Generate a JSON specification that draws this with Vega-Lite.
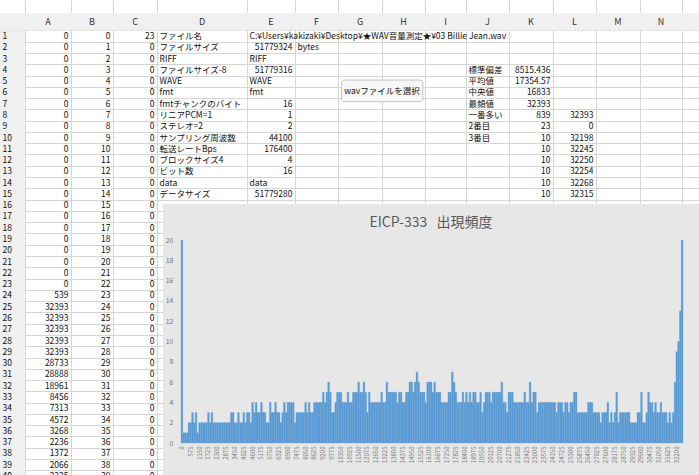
{
  "$schema": "https://vega.github.io/schema/vega-lite/v6.json",
  "padding": {"top": 13, "left": 0, "right": 0, "bottom": 0},
  "background": "white",
  "spacing": 0,
  "bounds": "flush",
  "config": {"view": {"stroke": null}, "font": "Noto Sans CJK JP", "concat": {"spacing": 0}},
  "datasets": {
    "txt": [
      {"c":0,"r":1,"t":"1"},{"c":0,"r":2,"t":"2"},{"c":0,"r":3,"t":"3"},{"c":0,"r":4,"t":"4"},{"c":0,"r":5,"t":"5"},{"c":0,"r":6,"t":"6"},{"c":0,"r":7,"t":"7"},{"c":0,"r":8,"t":"8"},{"c":0,"r":9,"t":"9"},{"c":0,"r":10,"t":"10"},
      {"c":0,"r":11,"t":"11"},{"c":0,"r":12,"t":"12"},{"c":0,"r":13,"t":"13"},{"c":0,"r":14,"t":"14"},{"c":0,"r":15,"t":"15"},{"c":0,"r":16,"t":"16"},{"c":0,"r":17,"t":"17"},{"c":0,"r":18,"t":"18"},{"c":0,"r":19,"t":"19"},{"c":0,"r":20,"t":"20"},
      {"c":0,"r":21,"t":"21"},{"c":0,"r":22,"t":"22"},{"c":0,"r":23,"t":"23"},{"c":0,"r":24,"t":"24"},{"c":0,"r":25,"t":"25"},{"c":0,"r":26,"t":"26"},{"c":0,"r":27,"t":"27"},{"c":0,"r":28,"t":"28"},{"c":0,"r":29,"t":"29"},{"c":0,"r":30,"t":"30"},
      {"c":0,"r":31,"t":"31"},{"c":0,"r":32,"t":"32"},{"c":0,"r":33,"t":"33"},{"c":0,"r":34,"t":"34"},{"c":0,"r":35,"t":"35"},{"c":0,"r":36,"t":"36"},{"c":0,"r":37,"t":"37"},{"c":0,"r":38,"t":"38"},{"c":0,"r":39,"t":"39"},{"c":0,"r":40,"t":"40"},
      {"c":4,"r":1,"t":"ファイル名"},{"c":5,"r":1,"t":"C:¥Users¥kakizaki¥Desktop¥★WAV音量測定★¥03 Billie Jean.wav"},
      {"c":4,"r":2,"t":"ファイルサイズ"},{"c":6,"r":2,"t":"bytes"},
      {"c":4,"r":3,"t":"RIFF"},{"c":5,"r":3,"t":"RIFF"},
      {"c":4,"r":4,"t":"ファイルサイズ-8"},{"c":10,"r":4,"t":"標準偏差"},
      {"c":4,"r":5,"t":"WAVE"},{"c":5,"r":5,"t":"WAVE"},{"c":10,"r":5,"t":"平均値"},
      {"c":4,"r":6,"t":"fmt"},{"c":5,"r":6,"t":"fmt"},{"c":10,"r":6,"t":"中央値"},
      {"c":4,"r":7,"t":"fmtチャンクのバイト数"},{"c":10,"r":7,"t":"最頻値"},
      {"c":4,"r":8,"t":"リニアPCM=1"},{"c":10,"r":8,"t":"一番多い値"},
      {"c":4,"r":9,"t":"ステレオ=2"},{"c":10,"r":9,"t":"2番目"},
      {"c":4,"r":10,"t":"サンプリング周波数"},{"c":10,"r":10,"t":"3番目"},
      {"c":4,"r":11,"t":"転送レートBps"},
      {"c":4,"r":12,"t":"ブロックサイズ4"},
      {"c":4,"r":13,"t":"ビット数"},
      {"c":4,"r":14,"t":"data"},{"c":5,"r":14,"t":"data"},
      {"c":4,"r":15,"t":"データサイズ"}
    ],
    "num": [
      {"c":1,"r":1,"t":0},{"c":1,"r":2,"t":0},{"c":1,"r":3,"t":0},{"c":1,"r":4,"t":0},{"c":1,"r":5,"t":0},{"c":1,"r":6,"t":0},{"c":1,"r":7,"t":0},{"c":1,"r":8,"t":0},{"c":1,"r":9,"t":0},{"c":1,"r":10,"t":0},
      {"c":1,"r":11,"t":0},{"c":1,"r":12,"t":0},{"c":1,"r":13,"t":0},{"c":1,"r":14,"t":0},{"c":1,"r":15,"t":0},{"c":1,"r":16,"t":0},{"c":1,"r":17,"t":0},{"c":1,"r":18,"t":0},{"c":1,"r":19,"t":0},{"c":1,"r":20,"t":0},
      {"c":1,"r":21,"t":0},{"c":1,"r":22,"t":0},{"c":1,"r":23,"t":0},{"c":1,"r":24,"t":539},{"c":1,"r":25,"t":32393},{"c":1,"r":26,"t":32393},{"c":1,"r":27,"t":32393},{"c":1,"r":28,"t":32393},{"c":1,"r":29,"t":32393},{"c":1,"r":30,"t":28733},
      {"c":1,"r":31,"t":28888},{"c":1,"r":32,"t":18961},{"c":1,"r":33,"t":8456},{"c":1,"r":34,"t":7313},{"c":1,"r":35,"t":4572},{"c":1,"r":36,"t":3268},{"c":1,"r":37,"t":2236},{"c":1,"r":38,"t":1372},{"c":1,"r":39,"t":2066},{"c":1,"r":40,"t":2325},
      {"c":2,"r":1,"t":0},{"c":2,"r":2,"t":1},{"c":2,"r":3,"t":2},{"c":2,"r":4,"t":3},{"c":2,"r":5,"t":4},{"c":2,"r":6,"t":5},{"c":2,"r":7,"t":6},{"c":2,"r":8,"t":7},{"c":2,"r":9,"t":8},{"c":2,"r":10,"t":9},
      {"c":2,"r":11,"t":10},{"c":2,"r":12,"t":11},{"c":2,"r":13,"t":12},{"c":2,"r":14,"t":13},{"c":2,"r":15,"t":14},{"c":2,"r":16,"t":15},{"c":2,"r":17,"t":16},{"c":2,"r":18,"t":17},{"c":2,"r":19,"t":18},{"c":2,"r":20,"t":19},
      {"c":2,"r":21,"t":20},{"c":2,"r":22,"t":21},{"c":2,"r":23,"t":22},{"c":2,"r":24,"t":23},{"c":2,"r":25,"t":24},{"c":2,"r":26,"t":25},{"c":2,"r":27,"t":26},{"c":2,"r":28,"t":27},{"c":2,"r":29,"t":28},{"c":2,"r":30,"t":29},
      {"c":2,"r":31,"t":30},{"c":2,"r":32,"t":31},{"c":2,"r":33,"t":32},{"c":2,"r":34,"t":33},{"c":2,"r":35,"t":34},{"c":2,"r":36,"t":35},{"c":2,"r":37,"t":36},{"c":2,"r":38,"t":37},{"c":2,"r":39,"t":38},{"c":2,"r":40,"t":39},
      {"c":3,"r":1,"t":23},{"c":3,"r":2,"t":0},{"c":3,"r":3,"t":0},{"c":3,"r":4,"t":0},{"c":3,"r":5,"t":0},{"c":3,"r":6,"t":0},{"c":3,"r":7,"t":0},{"c":3,"r":8,"t":0},{"c":3,"r":9,"t":0},{"c":3,"r":10,"t":0},
      {"c":3,"r":11,"t":0},{"c":3,"r":12,"t":0},{"c":3,"r":13,"t":0},{"c":3,"r":14,"t":0},{"c":3,"r":15,"t":0},{"c":3,"r":16,"t":0},{"c":3,"r":17,"t":0},{"c":3,"r":18,"t":0},{"c":3,"r":19,"t":0},{"c":3,"r":20,"t":0},
      {"c":3,"r":21,"t":0},{"c":3,"r":22,"t":0},{"c":3,"r":23,"t":0},{"c":3,"r":24,"t":0},{"c":3,"r":25,"t":0},{"c":3,"r":26,"t":0},{"c":3,"r":27,"t":0},{"c":3,"r":28,"t":0},{"c":3,"r":29,"t":0},{"c":3,"r":30,"t":0},
      {"c":3,"r":31,"t":0},{"c":3,"r":32,"t":0},{"c":3,"r":33,"t":0},{"c":3,"r":34,"t":0},{"c":3,"r":35,"t":0},{"c":3,"r":36,"t":0},{"c":3,"r":37,"t":0},{"c":3,"r":38,"t":0},{"c":3,"r":39,"t":0},{"c":3,"r":40,"t":0},
      {"c":5,"r":2,"t":51779324},{"c":5,"r":4,"t":51779316},{"c":5,"r":7,"t":16},{"c":5,"r":8,"t":1},{"c":5,"r":9,"t":2},{"c":5,"r":10,"t":44100},{"c":5,"r":11,"t":176400},{"c":5,"r":12,"t":4},{"c":5,"r":13,"t":16},{"c":5,"r":15,"t":51779280},
      {"c":11,"r":4,"t":8515.436},{"c":11,"r":5,"t":17354.57},{"c":11,"r":6,"t":16833},{"c":11,"r":7,"t":32393},{"c":11,"r":8,"t":839},{"c":11,"r":9,"t":23},{"c":11,"r":10,"t":10},{"c":11,"r":11,"t":10},{"c":11,"r":12,"t":10},{"c":11,"r":13,"t":10},{"c":11,"r":14,"t":10},{"c":11,"r":15,"t":10},
      {"c":12,"r":8,"t":32393},{"c":12,"r":9,"t":0},{"c":12,"r":10,"t":32198},{"c":12,"r":11,"t":32245},{"c":12,"r":12,"t":32250},{"c":12,"r":13,"t":32254},{"c":12,"r":14,"t":32268},{"c":12,"r":15,"t":32315}
    ],
    "hist": [
      {"v":0,"n":20},{"v":115,"n":1},{"v":230,"n":1},{"v":345,"n":1},{"v":460,"n":2},{"v":575,"n":2},{"v":690,"n":3},{"v":805,"n":2},{"v":920,"n":3},{"v":1035,"n":1},
      {"v":1150,"n":2},{"v":1265,"n":2},{"v":1380,"n":2},{"v":1495,"n":2},{"v":1610,"n":2},{"v":1725,"n":3},{"v":1840,"n":2},{"v":1955,"n":3},{"v":2070,"n":2},{"v":2185,"n":2},
      {"v":2300,"n":2},{"v":2415,"n":2},{"v":2530,"n":2},{"v":2645,"n":2},{"v":2760,"n":2},{"v":2875,"n":2},{"v":2990,"n":2},{"v":3105,"n":2},{"v":3220,"n":3},{"v":3335,"n":3},
      {"v":3450,"n":2},{"v":3565,"n":2},{"v":3680,"n":3},{"v":3795,"n":2},{"v":3910,"n":2},{"v":4025,"n":3},{"v":4140,"n":2},{"v":4255,"n":3},{"v":4370,"n":3},{"v":4485,"n":2},
      {"v":4600,"n":4},{"v":4715,"n":3},{"v":4830,"n":4},{"v":4945,"n":3},{"v":5060,"n":3},{"v":5175,"n":4},{"v":5290,"n":3},{"v":5405,"n":3},{"v":5520,"n":2},{"v":5635,"n":2},
      {"v":5750,"n":4},{"v":5865,"n":3},{"v":5980,"n":3},{"v":6095,"n":4},{"v":6210,"n":3},{"v":6325,"n":3},{"v":6440,"n":2},{"v":6555,"n":3},{"v":6670,"n":4},{"v":6785,"n":3},
      {"v":6900,"n":4},{"v":7015,"n":4},{"v":7130,"n":4},{"v":7245,"n":4},{"v":7360,"n":2},{"v":7475,"n":3},{"v":7590,"n":3},{"v":7705,"n":3},{"v":7820,"n":3},{"v":7935,"n":3},
      {"v":8050,"n":4},{"v":8165,"n":3},{"v":8280,"n":4},{"v":8395,"n":3},{"v":8510,"n":3},{"v":8625,"n":4},{"v":8740,"n":4},{"v":8855,"n":4},{"v":8970,"n":4},{"v":9085,"n":4},
      {"v":9200,"n":5},{"v":9315,"n":4},{"v":9430,"n":5},{"v":9545,"n":6},{"v":9660,"n":5},{"v":9775,"n":3},{"v":9890,"n":3},{"v":10005,"n":4},{"v":10120,"n":5},{"v":10235,"n":5},
      {"v":10350,"n":5},{"v":10465,"n":4},{"v":10580,"n":4},{"v":10695,"n":4},{"v":10810,"n":5},{"v":10925,"n":4},{"v":11040,"n":4},{"v":11155,"n":5},{"v":11270,"n":5},{"v":11385,"n":5},
      {"v":11500,"n":6},{"v":11615,"n":5},{"v":11730,"n":5},{"v":11845,"n":6},{"v":11960,"n":5},{"v":12075,"n":3},{"v":12190,"n":5},{"v":12305,"n":4},{"v":12420,"n":4},{"v":12535,"n":4},
      {"v":12650,"n":4},{"v":12765,"n":4},{"v":12880,"n":4},{"v":12995,"n":5},{"v":13110,"n":4},{"v":13225,"n":4},{"v":13340,"n":6},{"v":13455,"n":5},{"v":13570,"n":5},{"v":13685,"n":5},
      {"v":13800,"n":5},{"v":13915,"n":5},{"v":14030,"n":4},{"v":14145,"n":5},{"v":14260,"n":5},{"v":14375,"n":4},{"v":14490,"n":4},{"v":14605,"n":5},{"v":14720,"n":5},{"v":14835,"n":6},
      {"v":14950,"n":6},{"v":15065,"n":5},{"v":15180,"n":6},{"v":15295,"n":7},{"v":15410,"n":6},{"v":15525,"n":5},{"v":15640,"n":5},{"v":15755,"n":5},{"v":15870,"n":4},{"v":15985,"n":6},
      {"v":16100,"n":6},{"v":16215,"n":6},{"v":16330,"n":5},{"v":16445,"n":6},{"v":16560,"n":5},{"v":16675,"n":5},{"v":16790,"n":5},{"v":16905,"n":4},{"v":17020,"n":4},{"v":17135,"n":4},
      {"v":17250,"n":4},{"v":17365,"n":5},{"v":17480,"n":5},{"v":17595,"n":7},{"v":17710,"n":6},{"v":17825,"n":5},{"v":17940,"n":4},{"v":18055,"n":4},{"v":18170,"n":4},{"v":18285,"n":5},
      {"v":18400,"n":4},{"v":18515,"n":5},{"v":18630,"n":4},{"v":18745,"n":5},{"v":18860,"n":4},{"v":18975,"n":5},{"v":19090,"n":5},{"v":19205,"n":4},{"v":19320,"n":4},{"v":19435,"n":5},
      {"v":19550,"n":3},{"v":19665,"n":4},{"v":19780,"n":5},{"v":19895,"n":5},{"v":20010,"n":5},{"v":20125,"n":4},{"v":20240,"n":5},{"v":20355,"n":5},{"v":20470,"n":5},{"v":20585,"n":5},
      {"v":20700,"n":5},{"v":20815,"n":6},{"v":20930,"n":4},{"v":21045,"n":4},{"v":21160,"n":3},{"v":21275,"n":5},{"v":21390,"n":5},{"v":21505,"n":5},{"v":21620,"n":4},{"v":21735,"n":4},
      {"v":21850,"n":4},{"v":21965,"n":4},{"v":22080,"n":4},{"v":22195,"n":4},{"v":22310,"n":5},{"v":22425,"n":4},{"v":22540,"n":4},{"v":22655,"n":6},{"v":22770,"n":4},{"v":22885,"n":5},
      {"v":23000,"n":5},{"v":23115,"n":3},{"v":23230,"n":4},{"v":23345,"n":4},{"v":23460,"n":4},{"v":23575,"n":4},{"v":23690,"n":4},{"v":23805,"n":4},{"v":23920,"n":4},{"v":24035,"n":4},
      {"v":24150,"n":4},{"v":24265,"n":4},{"v":24380,"n":3},{"v":24495,"n":4},{"v":24610,"n":4},{"v":24725,"n":4},{"v":24840,"n":3},{"v":24955,"n":4},{"v":25070,"n":4},{"v":25185,"n":3},
      {"v":25300,"n":4},{"v":25415,"n":4},{"v":25530,"n":5},{"v":25645,"n":5},{"v":25760,"n":3},{"v":25875,"n":3},{"v":25990,"n":3},{"v":26105,"n":3},{"v":26220,"n":3},{"v":26335,"n":3},
      {"v":26450,"n":4},{"v":26565,"n":4},{"v":26680,"n":4},{"v":26795,"n":3},{"v":26910,"n":3},{"v":27025,"n":3},{"v":27140,"n":3},{"v":27255,"n":2},{"v":27370,"n":3},{"v":27485,"n":3},
      {"v":27600,"n":3},{"v":27715,"n":4},{"v":27830,"n":2},{"v":27945,"n":3},{"v":28060,"n":2},{"v":28175,"n":3},{"v":28290,"n":5},{"v":28405,"n":2},{"v":28520,"n":3},{"v":28635,"n":3},
      {"v":28750,"n":3},{"v":28865,"n":3},{"v":28980,"n":3},{"v":29095,"n":3},{"v":29210,"n":2},{"v":29325,"n":2},{"v":29440,"n":2},{"v":29555,"n":2},{"v":29670,"n":3},{"v":29785,"n":3},
      {"v":29900,"n":5},{"v":30015,"n":2},{"v":30130,"n":2},{"v":30245,"n":3},{"v":30360,"n":5},{"v":30475,"n":4},{"v":30590,"n":4},{"v":30705,"n":3},{"v":30820,"n":4},{"v":30935,"n":3},
      {"v":31050,"n":3},{"v":31165,"n":4},{"v":31280,"n":3},{"v":31395,"n":3},{"v":31510,"n":3},{"v":31625,"n":2},{"v":31740,"n":3},{"v":31855,"n":2},{"v":31970,"n":3},{"v":32085,"n":6},
      {"v":32200,"n":9},{"v":32315,"n":10},{"v":32430,"n":13},{"v":32545,"n":20}
    ]
  },
  "vconcat": [
    {
      "width": 699,
      "height": 191,
      "layer": [
        {
          "data": {"values": [{"c":0,"c2":16,"r":0,"r2":1},{"c":0,"c2":1,"r":1,"r2":41}]},
          "mark": {"type": "rect", "fill": "#f0f0f0", "clip": true},
          "encoding": {
            "x": {"field": "c", "type": "quantitative", "scale": {"domain": [0,1,2,3,4,5,6,7,8,9,10,11,12,13,14,15,16], "range": [0,25,71,113,157,247,295,338,382,425,466,509,553,596,640,682,725], "nice": false, "zero": false}, "axis": null},
            "x2": {"field": "c2"},
            "y": {"field": "r", "type": "quantitative", "scale": {"domain": [0,1,41], "range": [0,17.4,468.6], "nice": false, "zero": false}, "axis": null},
            "y2": {"field": "r2"}
          }
        },
        {
          "data": {"name": "txt"},
          "transform": [{"filter": "datum.r <= 16"}],
          "mark": {"type": "text", "align": "left", "baseline": "middle", "dx": 2.5, "dy": 5.6, "fontSize": 8.5, "color": "#111111", "clip": true, "ellipsis": "\u200b", "limit": {"expr": "datum.c == 4 ? 89 : datum.c == 10 ? 41 : 0"}},
          "encoding": {
            "x": {"field": "c", "type": "quantitative", "scale": {"domain": [0,1,2,3,4,5,6,7,8,9,10,11,12,13,14,15,16], "range": [0,25,71,113,157,247,295,338,382,425,466,509,553,596,640,682,725], "nice": false, "zero": false},
                  "axis": {"grid": true, "gridColor": "#d6d6d6", "labels": false, "ticks": false, "domain": false, "title": null, "values": [1,2,3,4,5,6,7,8,9,10,11,12,13,14,15]}},
            "y": {"field": "r", "type": "quantitative", "scale": {"domain": [0,1,41], "range": [0,17.4,468.6], "nice": false, "zero": false},
                  "axis": {"grid": true, "gridColor": "#d6d6d6", "labels": false, "ticks": false, "domain": false, "title": null, "values": [0,1,2,3,4,5,6,7,8,9,10,11,12,13,14,15,16]}},
            "text": {"field": "t", "type": "nominal"}
          }
        },
        {
          "data": {"name": "num"},
          "transform": [{"filter": "datum.r <= 16"}],
          "mark": {"type": "text", "align": "right", "baseline": "middle", "dx": -2.5, "dy": 5.6, "fontSize": 8.5, "color": "#111111", "clip": true},
          "encoding": {
            "x": {"field": "c", "type": "quantitative", "scale": {"domain": [0,1,2,3,4,5,6,7,8,9,10,11,12,13,14,15], "range": [25,71,113,157,247,295,338,382,425,466,509,553,596,640,682,725], "nice": false, "zero": false}, "axis": null},
            "y": {"field": "r", "type": "quantitative", "scale": {"domain": [0,1,41], "range": [0,17.4,468.6], "nice": false, "zero": false}, "axis": null},
            "text": {"field": "t", "type": "nominal"}
          }
        },
        {
          "data": {"values": [{"c":1,"r":0,"t":"A"},{"c":2,"r":0,"t":"B"},{"c":3,"r":0,"t":"C"},{"c":4,"r":0,"t":"D"},{"c":5,"r":0,"t":"E"},{"c":6,"r":0,"t":"F"},{"c":7,"r":0,"t":"G"},{"c":8,"r":0,"t":"H"},{"c":9,"r":0,"t":"I"},{"c":10,"r":0,"t":"J"},{"c":11,"r":0,"t":"K"},{"c":12,"r":0,"t":"L"},{"c":13,"r":0,"t":"M"},{"c":14,"r":0,"t":"N"}]},
          "mark": {"type": "text", "align": "center", "baseline": "middle", "dy": 8.7, "fontSize": 9, "color": "#333333", "clip": true},
          "encoding": {
            "x": {"field": "c", "type": "quantitative", "scale": {"domain": [1,2,3,4,5,6,7,8,9,10,11,12,13,14,15], "range": [48,92,135,202,271,316.5,360,403.5,445.5,487.5,531,574.5,618,661,703.5], "nice": false, "zero": false}, "axis": null},
            "y": {"field": "r", "type": "quantitative", "scale": {"domain": [0,1,41], "range": [0,17.4,468.6], "nice": false, "zero": false}, "axis": null},
            "text": {"field": "t", "type": "nominal"}
          }
        },
        {
          "data": {"values": [{"c":7.08,"c2":8.95,"r":5.4,"r2":7.32}]},
          "mark": {"type": "rect", "fill": "#f7f7f7", "stroke": "#b8b8b8", "strokeWidth": 0.8, "cornerRadius": 3},
          "encoding": {
            "x": {"field": "c", "type": "quantitative", "scale": {"domain": [0,1,2,3,4,5,6,7,8,9,10,11,12,13,14,15,16], "range": [0,25,71,113,157,247,295,338,382,425,466,509,553,596,640,682,725], "nice": false, "zero": false}, "axis": null},
            "x2": {"field": "c2"},
            "y": {"field": "r", "type": "quantitative", "scale": {"domain": [0,1,41], "range": [0,17.4,468.6], "nice": false, "zero": false}, "axis": null},
            "y2": {"field": "r2"}
          }
        },
        {
          "data": {"values": [{"c":8.0,"r":6.36,"t":"wavファイルを選択"}]},
          "mark": {"type": "text", "align": "center", "baseline": "middle", "fontSize": 8.5, "color": "#111111"},
          "encoding": {
            "x": {"field": "c", "type": "quantitative", "scale": {"domain": [0,1,2,3,4,5,6,7,8,9,10,11,12,13,14,15,16], "range": [0,25,71,113,157,247,295,338,382,425,466,509,553,596,640,682,725], "nice": false, "zero": false}, "axis": null},
            "y": {"field": "r", "type": "quantitative", "scale": {"domain": [0,1,41], "range": [0,17.4,468.6], "nice": false, "zero": false}, "axis": null},
            "text": {"field": "t", "type": "nominal"}
          }
        }
      ],
      "resolve": {"scale": {"x": "independent", "y": "independent"}, "axis": {"x": "independent", "y": "independent"}}
    },
    {
      "spacing": 0,
      "bounds": "flush",
      "hconcat": [
        {
          "width": 163,
          "height": 271,
          "layer": [
            {
              "data": {"values": [{"c":0,"c2":1,"r":1,"r2":41}]},
              "mark": {"type": "rect", "fill": "#f0f0f0", "clip": true},
              "encoding": {
                "x": {"field": "c", "type": "quantitative", "scale": {"domain": [0,1,2,3,4,5,6,7,8,9,10,11,12,13,14,15,16], "range": [0,25,71,113,157,247,295,338,382,425,466,509,553,596,640,682,725], "nice": false, "zero": false}, "axis": null},
                "x2": {"field": "c2"},
                "y": {"field": "r", "type": "quantitative", "scale": {"domain": [0,1,41], "range": [-191,-173.6,277.6], "nice": false, "zero": false}, "axis": null},
                "y2": {"field": "r2"}
              }
            },
            {
              "data": {"name": "txt"},
              "transform": [{"filter": "datum.r >= 16 && datum.c <= 3"}],
              "mark": {"type": "text", "align": "left", "baseline": "middle", "dx": 2.5, "dy": 5.6, "fontSize": 8.5, "color": "#111111", "clip": true},
              "encoding": {
                "x": {"field": "c", "type": "quantitative", "scale": {"domain": [0,1,2,3,4,5,6,7,8,9,10,11,12,13,14,15,16], "range": [0,25,71,113,157,247,295,338,382,425,466,509,553,596,640,682,725], "nice": false, "zero": false},
                      "axis": {"grid": true, "gridColor": "#d6d6d6", "labels": false, "ticks": false, "domain": false, "title": null, "values": [1,2,3,4]}},
                "y": {"field": "r", "type": "quantitative", "scale": {"domain": [0,1,41], "range": [-191,-173.6,277.6], "nice": false, "zero": false},
                      "axis": {"grid": true, "gridColor": "#d6d6d6", "labels": false, "ticks": false, "domain": false, "title": null, "values": [17,18,19,20,21,22,23,24,25,26,27,28,29,30,31,32,33,34,35,36,37,38,39,40]}},
                "text": {"field": "t", "type": "nominal"}
              }
            },
            {
              "data": {"name": "num"},
              "transform": [{"filter": "datum.r >= 16 && datum.c <= 3"}],
              "mark": {"type": "text", "align": "right", "baseline": "middle", "dx": -2.5, "dy": 5.6, "fontSize": 8.5, "color": "#111111", "clip": true},
              "encoding": {
                "x": {"field": "c", "type": "quantitative", "scale": {"domain": [0,1,2,3,4,5,6,7,8,9,10,11,12,13,14,15], "range": [25,71,113,157,247,295,338,382,425,466,509,553,596,640,682,725], "nice": false, "zero": false}, "axis": null},
                "y": {"field": "r", "type": "quantitative", "scale": {"domain": [0,1,41], "range": [-191,-173.6,277.6], "nice": false, "zero": false}, "axis": null},
                "text": {"field": "t", "type": "nominal"}
              }
            }
          ],
          "resolve": {"scale": {"x": "independent", "y": "independent"}, "axis": {"x": "independent", "y": "independent"}}
        },
        {
          "width": 536,
          "height": 271,
          "view": {"fill": "#e7e7e7", "stroke": null},
          "title": {"text": "EICP-333\u00a0\u00a0\u00a0出現頻度", "fontSize": 14, "fontWeight": "normal", "color": "#595959", "offset": -26, "anchor": "middle", "font": "Noto Sans CJK JP"},
          "data": {"name": "hist"},
          "mark": {"type": "bar", "color": "#5b9bd5", "stroke": "#5b9bd5", "strokeWidth": 0.3},
          "encoding": {
            "x": {"field": "v", "type": "ordinal", "sort": null,
                  "scale": {"range": [18, 520], "paddingInner": 0, "paddingOuter": 0},
                  "axis": {"title": null, "labelAngle": -90, "labelExpr": "datum.value % 575 === 0 ? datum.label : ''", "labelFontSize": 6, "labelColor": "#777777", "ticks": false, "domain": false, "offset": -32, "labelPadding": 3, "labelOverlap": false, "labelBound": false}},
            "y": {"field": "n", "type": "quantitative",
                  "scale": {"domain": [0, 20], "range": [239, 36], "nice": false, "zero": true},
                  "axis": {"title": null, "values": [0,2,4,6,8,10,12,14,16,18,20], "grid": false, "ticks": false, "domain": false, "offset": -13, "labelFontSize": 7, "labelColor": "#777777", "labelPadding": 3}}
          }
        }
      ]
    }
  ]
}
